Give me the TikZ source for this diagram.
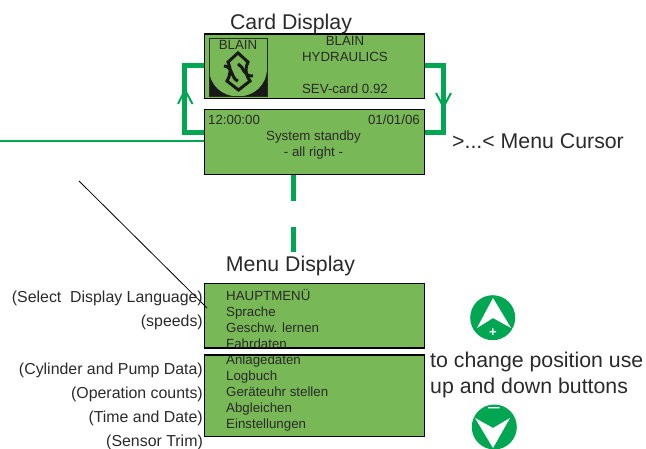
\documentclass[tikz,border=0pt]{standalone}
\usepackage{fontspec}
\setmainfont{Liberation Sans}
\definecolor{lcd}{HTML}{78B856}
\definecolor{sevgreen}{HTML}{00A651}
\definecolor{ink}{HTML}{2A2A2A}
\begin{document}
\begin{tikzpicture}[x=1pt,y=-1pt]
\tikzset{s/.style={draw=black,fill=lcd,line width=1.3pt,rectangle,inner sep=0pt},
big/.style={text=ink,font=\fontsize{21.3}{24}\selectfont,inner sep=0pt,anchor=base,yshift=-1pt},
lcdt/.style={text=ink,font=\fontsize{13.3}{15}\selectfont,inner sep=0pt,anchor=base,yshift=-.7pt},
side/.style={text=ink,font=\fontsize{15.9}{18}\selectfont,inner sep=0pt,anchor=base east,yshift=-.7pt},
loopg/.style={draw=sevgreen,line width=5pt},
tip/.style={draw=sevgreen,line width=2pt}}
\useasboundingbox(0,0)rectangle(646,449);
%%Boxes
\path(204,33.5)node[s,anchor=north west,minimum width=220pt,minimum height=64.5pt](card){};
\path(204,109)node[s,anchor=north west,minimum width=220pt,minimum height=65pt](standby){};
\path(204,283)node[s,anchor=north west,minimum width=220pt,minimum height=64pt](menuA){};
\path(204,355)node[s,anchor=north west,minimum width=220pt,minimum height=81pt](menuB){};
%%Free ends
\coordinate(L1)at(184.5,65.5);
\coordinate(L2)at(184.5,133);
\coordinate(R1)at(443.7,65.5);
\coordinate(R2)at(443.7,133);
\coordinate(feed)at(0,141);
\coordinate(drop)at(293,252);
\coordinate(slashA)at(79,181);
\coordinate(slashB)at(207,308);
%%Green loop
\draw[loopg](standby.west|-L2)--(L2)--(L1)--(card.west|-L1);
\draw[loopg](card.east|-R1)--(R1)--(R2)--(standby.east|-R2);
\draw[tip](178,104)--(185,90)--(192.5,104);
\draw[tip](436,93)--(443.5,107)--(451,93);
\draw[draw=sevgreen,line width=2pt](feed)--(standby.west|-feed);
\draw[draw=sevgreen,line width=5pt,dash pattern=on 26pt off 26pt](standby.south-|drop)--(drop);
\draw[draw=black,line width=.8pt](slashA)--(slashB);
%%Logo
\fill[black!90](209,68)rectangle(267,96.5);
\fill[lcd](209,38)--(267,38)--(267,68)..controls(267,85)and(254,96.5)..(238,96.5)..controls(222,96.5)and(209,85)..(209,68)--cycle;
\draw[ink,line width=.5pt](209,38)rectangle(267,96.5);
\draw[black!90,line width=3pt,line join=miter](238,53)--(248,62)..controls(245,68)and(245,74)..(250,81)--(238.5,90)--(227,81)..controls(231,74)and(231,68)..(228,62)--cycle;
\draw[black!90,line width=3pt](224,66)..controls(233,66)and(231,79)..(238,81);
\draw[black!90,line width=3pt](238,64)..controls(244,66)and(243,77)..(253,76);
\path(238,49)node[lcdt](logoname){BLAIN};
%%Card Display
\path(291,29)node[big](cardT){Card Display};
\path(345,45)node[lcdt](cardA){BLAIN};
\path(345,61)node[lcdt](cardB){HYDRAULICS};
\path(345,93)node[lcdt](cardC){SEV-card 0.92};
%%Standby
\path(208,124)node[lcdt,anchor=base west](clock){12:00:00};
\path(420,124)node[lcdt,anchor=base east](date){01/01/06};
\path(313.5,140)node[lcdt](stateA){System standby};
\path(313.5,156)node[lcdt](stateB){- all right -};
\path(452,148)node[big,anchor=base west](cursor){>...< Menu Cursor};
%%Menu
\path(290.5,271)node[big](menuT){Menu Display};
\foreach \n/\y/\t in {a/300/HAUPTMENÜ,b/316/Sprache,c/332/Geschw. lernen,d/348/Fahrdaten,
e/364/Anlagedaten,f/380/Logbuch,g/396/Geräteuhr stellen,h/412/Abgleichen,i/428/Einstellungen}
\path(226,\y)node[lcdt,anchor=base west](m\n){\t};
\draw[black,line width=1.3pt](menuA.south west)--(menuA.south east)(menuB.north west)--(menuB.north east);
\foreach \n/\y/\t in {a/302/(Select\ \ Display Language),b/326/(speeds),c/374/(Cylinder and Pump Data),
d/398/(Operation counts),e/422/(Time and Date),f/446/(Sensor Trim)}
\path(203,\y)node[side](why\n){\t};
%%Buttons
\fill[sevgreen](492.7,317.7)circle(22.5);
\fill[white](493,298)--(511,328)--(493,318)--(477,328)--cycle;
\path(493,333)node[text=white,inner sep=0pt,font=\fontsize{13}{13}\bfseries\selectfont](plus){+};
\path(430,366)node[big,anchor=base west](hintA){to change position use};
\path(430,392)node[big,anchor=base west](hintB){up and down buttons};
\fill[sevgreen](494.3,427)circle(22.5);
\fill[white](475,418)--(493,428)--(510,418)--(493,448)--cycle;
\path(494,410)node[text=white,inner sep=0pt,font=\fontsize{21}{21}\selectfont](minus){–};
\end{tikzpicture}
\end{document}
